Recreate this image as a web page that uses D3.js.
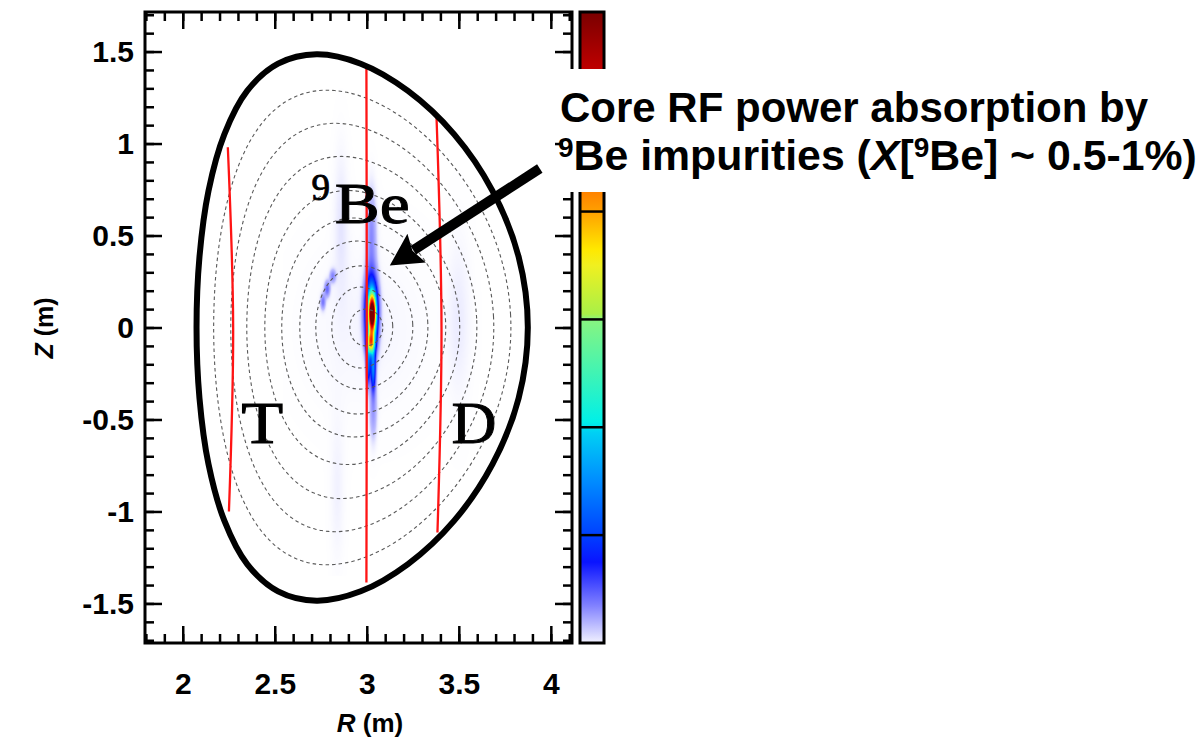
<!DOCTYPE html>
<html>
<head>
<meta charset="utf-8">
<script src="https://cdn.jsdelivr.net/npm/d3@7"></script>
<style>
  html, body { margin: 0; padding: 0; background: #fff; }
  svg { display: block; }
  .sans { font-family: "Liberation Sans", Arial, Helvetica, sans-serif; font-weight: bold; }
  .serif { font-family: "Liberation Serif", "Times New Roman", serif; }
</style>
</head>
<body>
<svg id="chart" width="1204" height="740"></svg>
<script>
// ---- values ----
const xTickValues = [2, 2.5, 3, 3.5, 4];
const yTickValues = [-1.5, -1, -0.5, 0, 0.5, 1, 1.5];

// last closed flux surface (m)
const boundaryR = [3.875, 3.825, 3.683, 3.475, 3.224, 2.967, 2.727, 2.518, 2.35, 2.226, 2.14, 2.091,
  2.075, 2.091, 2.14, 2.226, 2.35, 2.518, 2.727, 2.967, 3.224, 3.475, 3.683, 3.825];
const boundaryZ = [0, 0.384, 0.743, 1.05, 1.286, 1.434, 1.485, 1.434, 1.286, 1.05, 0.743, 0.384,
  0, -0.384, -0.743, -1.05, -1.286, -1.434, -1.485, -1.434, -1.286, -1.05, -0.743, -0.384];

// nested flux surfaces (dashed): inner / outer midplane radius, height, triangularity
const fluxRin = [2.168, 2.261, 2.348, 2.446, 2.538, 2.636, 2.723, 2.810, 2.908];
const fluxRout = [3.783, 3.690, 3.598, 3.505, 3.429, 3.332, 3.250, 3.141, 3.087];
const fluxZtop = [1.29, 1.11, 0.93, 0.745, 0.595, 0.47, 0.335, 0.22, 0.10];
const fluxDelta = [0.24, 0.21, 0.18, 0.15, 0.12, 0.10, 0.08, 0.06, 0.04];

// cyclotron resonance layers (red)
const layerR = [[2.245, 2.274, 2.251], [2.998, 3.0, 2.998], [3.379, 3.406, 3.384]];
const layerZ = [[0.98, 0, -1.0], [1.413, 0, -1.386], [1.14, 0, -1.114]];

// absorbed power density, described as blobs (centre, widths, peak)
const blobR = [3.03, 3.025, 3.022, 3.008, 3.035, 3.025, 3.035, 2.762, 2.785, 2.815, 2.86, 3.5, 2.84, 3.0];
const blobZ = [0.075, 0.08, -0.08, -0.2, -0.22, 0.5, -0.45, 0.14, 0.21, 0.28, 0.6, 0.05, -0.9, 0.0];
const blobSR = [0.013, 0.022, 0.014, 0.008, 0.009, 0.02, 0.015, 0.01, 0.011, 0.012, 0.03, 0.05, 0.03, 0.25];
const blobSZ = [0.065, 0.12, 0.04, 0.07, 0.08, 0.18, 0.12, 0.03, 0.03, 0.025, 0.3, 0.35, 0.3, 0.35];
const blobAmp = [5.0, 2.5, 3.2, 1.1, 1.3, 0.3, 0.25, 0.35, 0.4, 0.3, 0.08, 0.07, 0.06, 0.05];

// colour bar
const cbMax = 5.85;
const cbStops = [0, 0.35, 0.75, 1.0, 1.5, 1.95, 2.05, 2.5, 3.0, 3.05, 3.5, 3.65, 4.0, 4.5, 5.0, 5.85];
const cbColors = ['#f2f2ff', '#8080ff', '#0a14ff', '#0040ff', '#008cff', '#00d0f4', '#00f0e8', '#40f4b4',
  '#88f480', '#a8f048', '#f0f020', '#ffe800', '#ffa000', '#ff5000', '#e80000', '#7a0000'];
const cbDividers = [1, 2, 3, 4, 5];

// annotation arrow (m)
const arrowTail = [3.94, 0.864];
const arrowTip = [3.125, 0.337];

// ---- layout ----
const svg = d3.select('#chart');
const frame = { left: 145, right: 572, top: 12, bottom: 643 };

const x = d3.scaleLinear().domain([1.795, 4.115]).range([frame.left, frame.right]);
const y = d3.scaleLinear().domain([-1.715, 1.715]).range([frame.bottom, frame.top]);
const color = d3.scaleLinear().domain(cbStops).range(cbColors).clamp(true);

// ---- heat map ----
const hx0 = Math.floor(x(2.55)), hx1 = Math.ceil(x(3.75));
const hy0 = Math.floor(y(1.3)), hy1 = Math.ceil(y(-1.35));
const hw = hx1 - hx0, hh = hy1 - hy0;
const canvas = document.createElement('canvas');
canvas.width = hw;
canvas.height = hh;
const ctx = canvas.getContext('2d');
const img = ctx.createImageData(hw, hh);
for (let j = 0; j < hh; j++) {
  const Z = y.invert(hy0 + j + 0.5);
  for (let i = 0; i < hw; i++) {
    const R = x.invert(hx0 + i + 0.5);
    let v = 0;
    for (let k = 0; k < blobAmp.length; k++) {
      const dr = (R - blobR[k]) / blobSR[k];
      const dz = (Z - blobZ[k]) / blobSZ[k];
      v += blobAmp[k] * Math.exp(-0.5 * (dr * dr + dz * dz));
    }
    if (v < 0.005) continue;
    const c = d3.rgb(color(v));
    const p = 4 * (j * hw + i);
    img.data[p] = c.r;
    img.data[p + 1] = c.g;
    img.data[p + 2] = c.b;
    img.data[p + 3] = Math.round(255 * Math.min(1, v / 0.15));
  }
}
ctx.putImageData(img, 0, 0);
svg.append('image')
  .attr('x', hx0).attr('y', hy0)
  .attr('width', hw).attr('height', hh)
  .attr('href', canvas.toDataURL());

// ---- flux surfaces ----
const theta = d3.range(0, 2 * Math.PI, Math.PI / 60);
const closed = d3.line().x(d => x(d[0])).y(d => y(d[1])).curve(d3.curveCatmullRomClosed);

svg.append('g')
  .selectAll('path')
  .data(fluxRin.map((r, i) => i))
  .enter()
  .append('path')
  .attr('d', i => {
    const r0 = (fluxRin[i] + fluxRout[i]) / 2;
    const a = (fluxRout[i] - fluxRin[i]) / 2;
    return closed(theta.map(t => [
      r0 + a * Math.cos(t + fluxDelta[i] * Math.sin(t)),
      fluxZtop[i] * Math.sin(t)
    ]));
  })
  .attr('fill', 'none')
  .attr('stroke', '#5a5a5a')
  .attr('stroke-width', 1.1)
  .attr('stroke-dasharray', '3.5,3');

// ---- resonance layers ----
const open = d3.line().x(d => x(d[0])).y(d => y(d[1])).curve(d3.curveCatmullRom);
svg.append('g')
  .selectAll('path')
  .data(layerR.map((r, i) => r.map((v, j) => [v, layerZ[i][j]])))
  .enter()
  .append('path')
  .attr('d', open)
  .attr('fill', 'none')
  .attr('stroke', '#ff1414')
  .attr('stroke-width', 2.3);

// ---- plasma boundary ----
svg.append('path')
  .datum(boundaryR.map((r, i) => [r, boundaryZ[i]]))
  .attr('d', closed)
  .attr('fill', 'none')
  .attr('stroke', '#000')
  .attr('stroke-width', 6);

// ---- species labels ----
const serifLabels = svg.append('g').attr('class', 'serif')
  .attr('fill', '#000').attr('stroke', '#000').attr('stroke-width', 0.9);
serifLabels.append('text')
  .attr('x', x(2.318)).attr('y', y(-0.63))
  .attr('font-size', 59).attr('textLength', 42).attr('lengthAdjust', 'spacingAndGlyphs')
  .text('T');
serifLabels.append('text')
  .attr('x', x(3.46)).attr('y', y(-0.63))
  .attr('font-size', 59).attr('textLength', 45).attr('lengthAdjust', 'spacingAndGlyphs')
  .text('D');
serifLabels.append('text')
  .attr('x', x(2.70)).attr('y', y(0.695))
  .attr('font-size', 37)
  .text('9');
serifLabels.append('text')
  .attr('x', x(2.826)).attr('y', y(0.57))
  .attr('font-size', 56).attr('textLength', 75).attr('lengthAdjust', 'spacingAndGlyphs')
  .text('Be');

// ---- frame and ticks ----
const minorX = d3.range(18, 42).map(d => d / 10);
const minorY = d3.range(-17, 18).map(d => d / 10);

function styleAxis(g) {
  g.select('.domain').remove();
  g.selectAll('.tick line').attr('stroke', '#000').attr('stroke-width', 2.5);
  g.selectAll('.tick text').attr('class', 'sans').attr('fill', '#000').attr('font-size', 30);
}

svg.append('g').attr('transform', `translate(0,${frame.bottom})`)
  .call(d3.axisBottom(x).tickValues(xTickValues).tickSize(-17).tickPadding(30).tickFormat(d => String(d)))
  .call(styleAxis);
svg.append('g').attr('transform', `translate(0,${frame.bottom})`)
  .call(d3.axisBottom(x).tickValues(minorX).tickSize(-9).tickFormat(''))
  .call(styleAxis);
svg.append('g').attr('transform', `translate(0,${frame.top})`)
  .call(d3.axisTop(x).tickValues(xTickValues).tickSize(-17).tickFormat(''))
  .call(styleAxis);
svg.append('g').attr('transform', `translate(0,${frame.top})`)
  .call(d3.axisTop(x).tickValues(minorX).tickSize(-9).tickFormat(''))
  .call(styleAxis);
svg.append('g').attr('transform', `translate(${frame.left},0)`)
  .call(d3.axisLeft(y).tickValues(yTickValues).tickSize(-17).tickPadding(11).tickFormat(d => String(d)))
  .call(styleAxis);
svg.append('g').attr('transform', `translate(${frame.left},0)`)
  .call(d3.axisLeft(y).tickValues(minorY).tickSize(-9).tickFormat(''))
  .call(styleAxis);
svg.append('g').attr('transform', `translate(${frame.right},0)`)
  .call(d3.axisRight(y).tickValues(yTickValues).tickSize(-17).tickFormat(''))
  .call(styleAxis);
svg.append('g').attr('transform', `translate(${frame.right},0)`)
  .call(d3.axisRight(y).tickValues(minorY).tickSize(-9).tickFormat(''))
  .call(styleAxis);

svg.append('rect')
  .attr('x', frame.left).attr('y', frame.top)
  .attr('width', frame.right - frame.left).attr('height', frame.bottom - frame.top)
  .attr('fill', 'none').attr('stroke', '#000').attr('stroke-width', 3);

// axis titles
const xTitle = svg.append('text').attr('class', 'sans')
  .attr('x', 370).attr('y', 732).attr('text-anchor', 'middle').attr('font-size', 26);
xTitle.append('tspan').attr('font-style', 'italic').text('R');
xTitle.append('tspan').text(' (m)');

const yTitle = svg.append('text').attr('class', 'sans')
  .attr('transform', 'translate(53,328) rotate(-90)')
  .attr('text-anchor', 'middle').attr('font-size', 25);
yTitle.append('tspan').attr('font-style', 'italic').text('Z');
yTitle.append('tspan').text(' (m)');

// ---- colour bar ----
const cb = d3.scaleLinear().domain([0, cbMax]).range([frame.bottom, frame.top]);
const cbX = 580, cbW = 24;
const grad = svg.append('defs').append('linearGradient')
  .attr('id', 'cbgrad').attr('x1', 0).attr('y1', 1).attr('x2', 0).attr('y2', 0);
grad.selectAll('stop')
  .data(cbStops)
  .enter()
  .append('stop')
  .attr('offset', d => d / cbMax)
  .attr('stop-color', (d, i) => cbColors[i]);

svg.append('rect')
  .attr('x', cbX).attr('y', cb(cbMax))
  .attr('width', cbW).attr('height', cb(0) - cb(cbMax))
  .attr('fill', 'url(#cbgrad)');
svg.append('g')
  .selectAll('line')
  .data(cbDividers)
  .enter()
  .append('line')
  .attr('x1', cbX).attr('x2', cbX + cbW)
  .attr('y1', d => cb(d)).attr('y2', d => cb(d))
  .attr('stroke', '#000').attr('stroke-width', 2.5);
svg.append('rect')
  .attr('x', cbX).attr('y', cb(cbMax))
  .attr('width', cbW).attr('height', cb(0) - cb(cbMax))
  .attr('fill', 'none').attr('stroke', '#000').attr('stroke-width', 3);

// ---- annotation ----
svg.append('rect')
  .attr('x', 563).attr('y', 69).attr('width', 641).attr('height', 123)
  .attr('fill', '#fff');

const note = svg.append('g').attr('class', 'sans').attr('font-size', 42).attr('fill', '#000');
note.append('text').attr('x', 560).attr('y', 122).text('Core RF power absorption by');
const line2 = note.append('text').attr('x', 558).attr('y', 170).attr('font-size', 42.8);
line2.append('tspan').attr('font-size', 28).attr('dy', -13).text('9');
line2.append('tspan').attr('dy', 13).text('Be impurities (');
line2.append('tspan').attr('font-style', 'italic').text('X');
line2.append('tspan').text('[');
line2.append('tspan').attr('font-size', 28).attr('dy', -13).text('9');
line2.append('tspan').attr('dy', 13).text('Be] ~ 0.5-1%)');

// arrow
const tx = x(arrowTail[0]), ty = y(arrowTail[1]);
const hx = x(arrowTip[0]), hy = y(arrowTip[1]);
const len = Math.hypot(hx - tx, hy - ty);
const ux = (hx - tx) / len, uy = (hy - ty) / len;
const headLen = 32, headHalf = 17;
const bx = hx - ux * headLen, by = hy - uy * headLen;
svg.append('line')
  .attr('x1', tx).attr('y1', ty).attr('x2', bx + ux * 4).attr('y2', by + uy * 4)
  .attr('stroke', '#000').attr('stroke-width', 10);
svg.append('path')
  .attr('d', d3.line()([
    [hx, hy],
    [bx - uy * headHalf, by + ux * headHalf],
    [bx + ux * 5, by + uy * 5],
    [bx + uy * headHalf, by - ux * headHalf]
  ]) + 'Z')
  .attr('fill', '#000');
</script>
</body>
</html>
